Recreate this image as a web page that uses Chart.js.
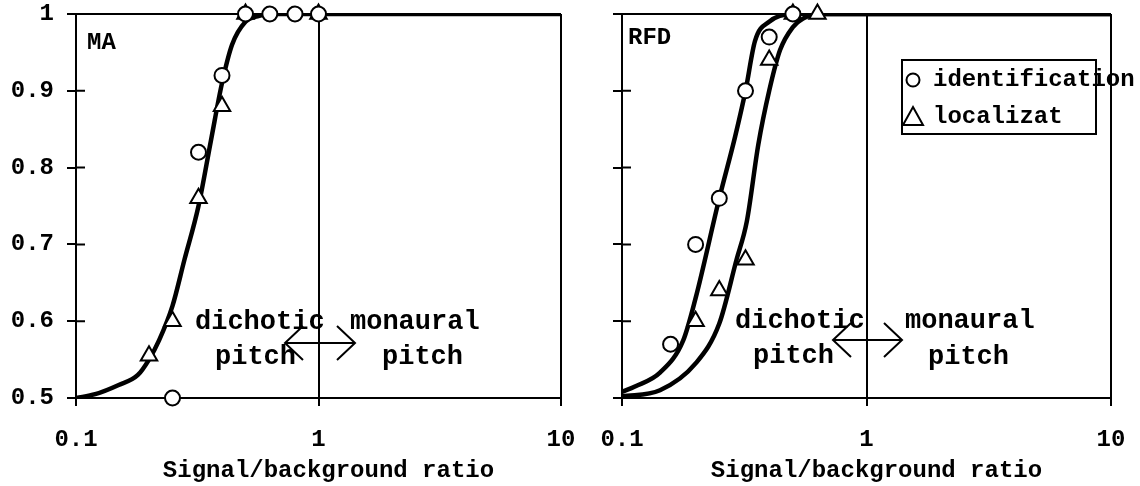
<!DOCTYPE html>
<html>
<head>
<meta charset="utf-8">
<script src="https://cdn.jsdelivr.net/npm/chart.js@4.4.1/dist/chart.umd.min.js"></script>
<style>
  html, body { margin: 0; padding: 0; background: #fff; }
  #wrap { position: relative; width: 1140px; height: 486px; overflow: hidden; }
  canvas { position: absolute; top: 0; }
</style>
</head>
<body>
<div id="wrap">
  <canvas id="ma" width="600" height="486" style="left:0px"></canvas>
  <canvas id="rfd" width="580" height="486" style="left:560px"></canvas>
</div>
<script>
// ---- data ----
const xTicks = [0.1, 1, 10];
const yTicks = [0.5, 0.6, 0.7, 0.8, 0.9, 1];
const xTitle = "Signal/background ratio";

// MA panel
const maIdentX = [0.25, 0.32, 0.4, 0.5, 0.63, 0.8, 1.0];
const maIdentY = [0.5, 0.82, 0.92, 1, 1, 1, 1];
const maLocX = [0.2, 0.25, 0.32, 0.4, 0.5, 1.0];
const maLocY = [0.555, 0.6, 0.76, 0.88, 1, 1];
const maFitX = [0.1, 0.12, 0.15, 0.18, 0.2, 0.22, 0.25, 0.28, 0.32, 0.36, 0.4, 0.44, 0.5, 0.56, 0.63, 1, 10];
const maFitY = [0.5, 0.505, 0.517, 0.53, 0.55, 0.575, 0.62, 0.68, 0.75, 0.835, 0.91, 0.96, 0.99, 0.997, 1, 1, 1];

// RFD panel
const rfdIdentX = [0.158, 0.2, 0.25, 0.32, 0.4, 0.5];
const rfdIdentY = [0.57, 0.7, 0.76, 0.9, 0.97, 1];
const rfdLocX = [0.2, 0.25, 0.32, 0.4, 0.5, 0.63];
const rfdLocY = [0.6, 0.64, 0.68, 0.94, 1, 1];
const rfdIdentFitX = [0.1, 0.113, 0.143, 0.178, 0.2, 0.25, 0.29, 0.32, 0.35, 0.4, 0.5, 1, 10];
const rfdIdentFitY = [0.508, 0.515, 0.533, 0.575, 0.63, 0.76, 0.84, 0.9, 0.965, 0.99, 1, 1, 1];
const rfdLocFitX = [0.1, 0.143, 0.2, 0.25, 0.294, 0.324, 0.361, 0.4, 0.443, 0.5, 0.55, 0.63, 1, 10];
const rfdLocFitY = [0.502, 0.51, 0.545, 0.597, 0.68, 0.73, 0.83, 0.9, 0.953, 0.983, 0.994, 1, 1, 1];

const legendLabels = ["identification", "localizat"];

// ---- style ----
const FONT = '"Liberation Mono", "Courier New", monospace';
Chart.defaults.font.family = FONT;
Chart.defaults.font.size = 24;
Chart.defaults.font.weight = "bold";
Chart.defaults.color = "#000";

function pts(xs, ys) {
  return xs.map((x, i) => ({ x: x, y: ys[i] }));
}

function markers(label, xs, ys, style) {
  return {
    label: label,
    data: pts(xs, ys),
    showLine: false,
    pointStyle: style,
    pointRadius: style === "circle" ? 7.5 : 9.5,
    pointBackgroundColor: "#fff",
    pointBorderColor: "#000",
    pointBorderWidth: 2,
    order: 0,
    clip: false,
  };
}

function fit(xs, ys) {
  return {
    data: pts(xs, ys),
    showLine: true,
    borderColor: "#000",
    borderWidth: 4.5,
    pointRadius: 0,
    cubicInterpolationMode: "monotone",
    order: 1,
  };
}

// labels may overflow the canvas edges; keep the plot box where the layout padding puts it
function noOverflow(s) {
  s.paddingTop = 0;
  s.paddingBottom = 0;
  s.paddingLeft = 0;
  s.paddingRight = 0;
}

function scales(axisWidth, showYLabels) {
  return {
    x: {
      type: "logarithmic",
      min: 0.1,
      max: 10,
      afterBuildTicks: (s) => { s.ticks = xTicks.map((v) => ({ value: v })); },
      afterFit: (s) => { s.height = 88; noOverflow(s); },
      ticks: { padding: 20, maxRotation: 0, autoSkip: false, callback: (v) => String(v) },
      grid: {
        color: (c) => (c.tick && c.tick.value > 0.5 ? "#000" : "rgba(0,0,0,0)"),
        lineWidth: 2,
        tickColor: "#000",
        tickLength: 8,
      },
      border: { color: "#000", width: 2 },
    },
    y: {
      min: 0.5,
      max: 1,
      afterBuildTicks: (s) => { s.ticks = yTicks.map((v) => ({ value: v })); },
      afterFit: (s) => { s.width = axisWidth; noOverflow(s); },
      ticks: { padding: 13, callback: (v) => (showYLabels ? String(v) : "") },
      grid: {
        color: (c) => (c.tick && c.tick.value === 1 ? "#000" : "rgba(0,0,0,0)"),
        lineWidth: 2,
        tickColor: "#000",
        tickLength: 9,
      },
      border: { color: "#000", width: 2 },
    },
  };
}

// annotations drawn on top: axis title, panel label, captions, arrow, legend
function overlay(cfg) {
  return {
    id: "overlay",
    afterDatasetsDraw(chart) {
      const ctx = chart.ctx;
      const a = chart.chartArea;
      const ys = chart.scales.y;
      ctx.save();
      ctx.strokeStyle = "#000";
      ctx.fillStyle = "#000";
      ctx.lineWidth = 2;
      // inner half of the y tick marks
      ctx.beginPath();
      yTicks.forEach((v) => {
        const py = ys.getPixelForValue(v);
        ctx.moveTo(a.left, py);
        ctx.lineTo(a.left + 9, py);
      });
      ctx.stroke();

      ctx.textBaseline = "middle";
      ctx.textAlign = "center";
      ctx.font = "bold 24px " + FONT;
      ctx.fillText(xTitle, (a.left + a.right) / 2 + 10, 471);

      ctx.textAlign = "left";
      ctx.fillText(cfg.label.text, a.left + cfg.label.dx, a.top + cfg.label.dy);
      ctx.font = "bold 27px " + FONT;
      cfg.texts.forEach((t) => ctx.fillText(t.text, a.left + t.dx, a.top + t.dy));

      const ar = cfg.arrow;
      const x1 = a.left + ar.x1, x2 = a.left + ar.x2, y = a.top + ar.y;
      ctx.beginPath();
      ctx.moveTo(x1, y); ctx.lineTo(x2, y);
      ctx.moveTo(x1 + 18, y - 17); ctx.lineTo(x1, y); ctx.lineTo(x1 + 18, y + 17);
      ctx.moveTo(x2 - 18, y - 17); ctx.lineTo(x2, y); ctx.lineTo(x2 - 18, y + 17);
      ctx.stroke();

      if (cfg.legend) {
        const L = cfg.legend;
        ctx.lineWidth = 2;
        ctx.strokeRect(a.left + L.x, a.top + L.y, L.w, L.h);
        ctx.font = "bold 24px " + FONT;
        L.rows.forEach((r, i) => {
          const mx = a.left + L.x + L.mx;
          const my = a.top + L.y + r;
          ctx.beginPath();
          if (i === 0) {
            ctx.arc(mx, my, 6.5, 0, Math.PI * 2);
          } else {
            ctx.moveTo(mx, my - 10);
            ctx.lineTo(mx + 10, my + 8);
            ctx.lineTo(mx - 10, my + 8);
            ctx.closePath();
          }
          ctx.stroke();
          ctx.fillText(legendLabels[i], a.left + L.x + L.tx, my);
        });
      }
      ctx.restore();
    },
  };
}

function makeChart(id, datasets, axisWidth, showYLabels, padRight, cfg) {
  return new Chart(document.getElementById(id), {
    type: "scatter",
    data: { datasets: datasets },
    options: {
      responsive: false,
      animation: false,
      devicePixelRatio: 1,
      layout: { padding: { top: 14, left: 0, right: padRight, bottom: 0 } },
      plugins: { legend: { display: false }, tooltip: { enabled: false } },
      scales: scales(axisWidth, showYLabels),
    },
    plugins: [overlay(cfg)],
  });
}

makeChart(
  "ma",
  [
    markers("identification", maIdentX, maIdentY, "circle"),
    markers("localization", maLocX, maLocY, "triangle"),
    fit(maFitX, maFitY),
  ],
  76, true, 39,
  {
    label: { text: "MA", dx: 11, dy: 29 },
    texts: [
      { text: "dichotic", dx: 119, dy: 308 },
      { text: "pitch", dx: 139, dy: 343 },
      { text: "monaural", dx: 274, dy: 308 },
      { text: "pitch", dx: 306, dy: 343 },
    ],
    arrow: { x1: 209, x2: 279, y: 329 },
  }
);

makeChart(
  "rfd",
  [
    markers("identification", rfdIdentX, rfdIdentY, "circle"),
    markers("localization", rfdLocX, rfdLocY, "triangle"),
    fit(rfdIdentFitX, rfdIdentFitY),
    fit(rfdLocFitX, rfdLocFitY),
  ],
  62, false, 29,
  {
    label: { text: "RFD", dx: 6, dy: 24 },
    texts: [
      { text: "dichotic", dx: 113, dy: 307 },
      { text: "pitch", dx: 131, dy: 342 },
      { text: "monaural", dx: 283, dy: 307 },
      { text: "pitch", dx: 306, dy: 343 },
    ],
    arrow: { x1: 211, x2: 280, y: 326 },
    legend: { x: 280, y: 46, w: 194, h: 74, mx: 11, tx: 31, rows: [20, 57] },
  }
);
</script>
</body>
</html>
